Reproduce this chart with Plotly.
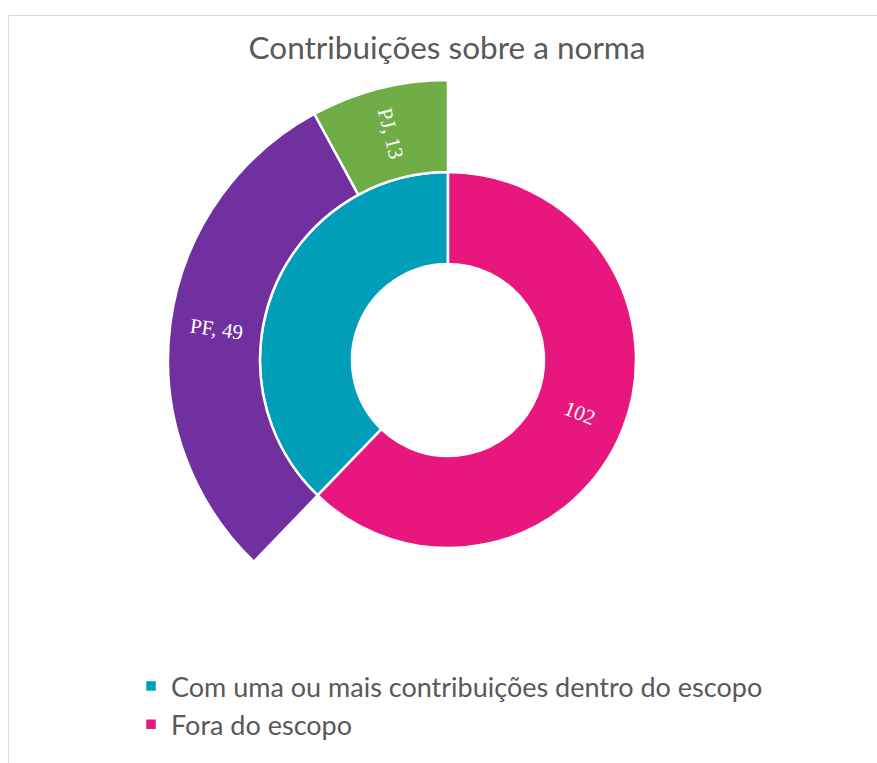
import math
import plotly.graph_objects as go

# Contributions received on the standard
title = "Contribuições sobre a norma"

ring_labels = ["Com uma ou mais contribuições dentro do escopo", "Fora do escopo"]
ring_colors = ["#009EB8", "#E8177D"]

fora_escopo = 102
detail_labels = ["PJ", "PF"]
detail_values = [13, 49]
detail_colors = ["#70AD47", "#7030A0"]

dentro_escopo = sum(detail_values)
total = dentro_escopo + fora_escopo

W, H = 877, 763
cx, cy = 448, 360          # pie centre in pixels (from top-left)
r_outer, r_mid, r_hole = 280, 188, 96
label_font = dict(family="Liberation Serif", size=21, color="white")


def domain(r):
    return dict(
        x=[(cx - r) / W, (cx + r) / W],
        y=[(H - cy - r) / H, (H - cy + r) / H],
    )


# In counterclockwise mode plotly places the first slice clockwise of the
# rotation angle, so shift it back to make both rings start at 12 o'clock
# and grow to the left.
rot_inner = -360 * dentro_escopo / total
rot_outer = -360 * detail_values[0] / total

fig = go.Figure()

# Inner ring: in scope vs. out of scope
fig.add_trace(go.Pie(
    labels=ring_labels,
    values=[dentro_escopo, fora_escopo],
    textinfo="none",
    marker=dict(colors=ring_colors, line=dict(color="white", width=2.5)),
    hole=r_hole / r_mid,
    sort=False,
    direction="counterclockwise",
    rotation=rot_inner,
    domain=domain(r_mid),
    showlegend=True,
))

# Outer ring: breakdown of the in-scope slice (PJ / PF), rest left blank
fig.add_trace(go.Pie(
    labels=detail_labels + ["_rest"],
    values=detail_values + [fora_escopo],
    textinfo="none",
    marker=dict(colors=detail_colors + ["rgba(0,0,0,0)"],
                line=dict(color="white", width=[2.5, 2.5, 0])),
    hole=r_mid / r_outer,
    sort=False,
    direction="counterclockwise",
    rotation=rot_outer,
    domain=domain(r_outer),
    showlegend=False,
    hoverinfo="skip",
))


def slice_label(text, start, value, radius):
    """Radially oriented label at the middle of a slice.

    start/value are in data units, angles measured clockwise from 12 o'clock.
    """
    theta = 360 * (start + value / 2) / total
    t = math.radians(theta)
    x = cx + radius * math.sin(t)
    y = cy - radius * math.cos(t)
    angle = theta - 90 if theta < 180 else theta - 270
    return dict(
        text=text, x=x / W, y=1 - y / H, xref="paper", yref="paper",
        xanchor="center", yanchor="middle", showarrow=False,
        textangle=angle, font=label_font,
    )


annotations = [
    # pink slice runs clockwise from 12 o'clock
    slice_label(str(fora_escopo), 0, fora_escopo, (r_hole + r_mid) / 2),
    # outer ring: PF then PJ, continuing clockwise after the pink slice
    slice_label(f"{detail_labels[1]}, {detail_values[1]}",
                fora_escopo, detail_values[1], (r_mid + r_outer) / 2),
    slice_label(f"{detail_labels[0]}, {detail_values[0]}",
                fora_escopo + detail_values[1], detail_values[0],
                (r_mid + r_outer) / 2),
]

fig.update_layout(
    width=W, height=H,
    margin=dict(l=0, r=0, t=0, b=0),
    paper_bgcolor="white",
    plot_bgcolor="white",
    title=dict(
        text=title,
        x=447 / W, xanchor="center",
        y=1 - 48 / H, yanchor="middle",
        font=dict(family="Lato", size=31.5, color="#595959"),
    ),
    legend=dict(
        x=131 / W, xanchor="left",
        y=1 - 662 / H, yanchor="top",
        orientation="v",
        font=dict(family="Lato", size=27, color="#595959"),
        bgcolor="rgba(0,0,0,0)",
    ),
    annotations=annotations,
    shapes=[dict(
        type="rect", xref="paper", yref="paper",
        x0=8.5 / W, x1=1.05, y0=-0.05, y1=1 - 15.5 / H,
        line=dict(color="#D9D9D9", width=1),
        fillcolor="rgba(0,0,0,0)",
    )],
)

fig.write_html("out.html")
